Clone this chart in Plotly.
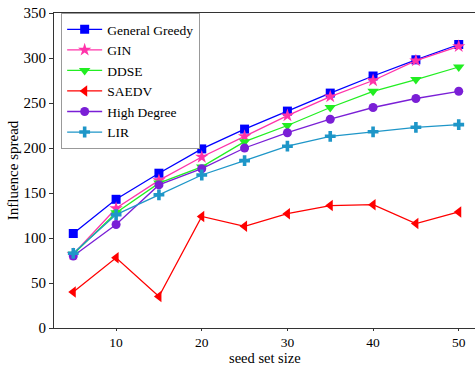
import plotly.graph_objects as go

seed_sizes = [5, 10, 15, 20, 25, 30, 35, 40, 45, 50]
general_greedy = [105, 143, 172, 199, 221, 241, 261, 280, 298, 315]
gin = [82, 133, 164, 190, 213, 236, 257, 275, 297, 313]
ddse = [82, 128, 161, 179, 207, 225, 245, 263, 276, 290]
saedv = [40, 78, 35, 124, 113, 127, 136, 137, 116, 129]
high_degree = [80, 115, 159, 177, 200, 217, 232, 245, 255, 263]
lir = [83, 126, 148, 170, 186, 202, 213, 218, 223, 226]

series = [
    ("General Greedy", general_greedy, "#0000FF", "square", 9),
    ("GIN", gin, "#FF33AA", "star", 10),
    ("DDSE", ddse, "#22EE22", "triangle-down", 10),
    ("SAEDV", saedv, "#FF0000", "triangle-left", 10),
    ("High Degree", high_degree, "#7A1FD6", "circle", 9),
    ("LIR", lir, "#1E96C8", "cross", 9),
]

fig = go.Figure()
for name, vals, color, sym, size in series:
    fig.add_trace(go.Scatter(
        x=seed_sizes, y=vals, name=name, mode="lines+markers",
        line=dict(color=color, width=1.3),
        marker=dict(symbol=sym, size=size, color=color),
    ))

font_family = "Liberation Serif, Times New Roman, serif"
fig.update_layout(
    width=475, height=365,
    margin=dict(l=54, r=0, t=13, b=37),
    paper_bgcolor="white", plot_bgcolor="white",
    font=dict(family=font_family, size=15, color="black"),
    showlegend=True,
    legend=dict(
        x=0.017, y=1.0, xanchor="left", yanchor="top",
        bordercolor="#999999", borderwidth=1, bgcolor="white",
        font=dict(family=font_family, size=13.5, color="black"),
        tracegroupgap=0, itemwidth=35,
    ),
    annotations=[
        dict(text="seed set size", xref="paper", yref="paper", x=0.5, y=-0.096,
             xanchor="center", yanchor="middle", showarrow=False,
             font=dict(family=font_family, size=14.5)),
        dict(text="Influence spread", xref="paper", yref="paper", x=-0.098, y=0.5,
             xanchor="center", yanchor="middle", showarrow=False, textangle=-90,
             font=dict(family=font_family, size=15)),
    ],
)
fig.update_xaxes(
    range=[2.75, 51.9], tickvals=[10, 20, 30, 40, 50],
    showgrid=False, zeroline=False,
    showline=True, linecolor="#333333", linewidth=1, mirror=True,
    ticks="outside", ticklen=2, tickcolor="#333333",
    tickfont=dict(family=font_family, size=13.5),
)
fig.update_yaxes(
    range=[0, 350], tickvals=[0, 50, 100, 150, 200, 250, 300, 350],
    showgrid=False, zeroline=False,
    showline=True, linecolor="#333333", linewidth=1, mirror=True,
    ticks="outside", ticklen=4, tickcolor="#333333",
    tickfont=dict(family=font_family, size=15),
)

fig.write_html("out.html")
